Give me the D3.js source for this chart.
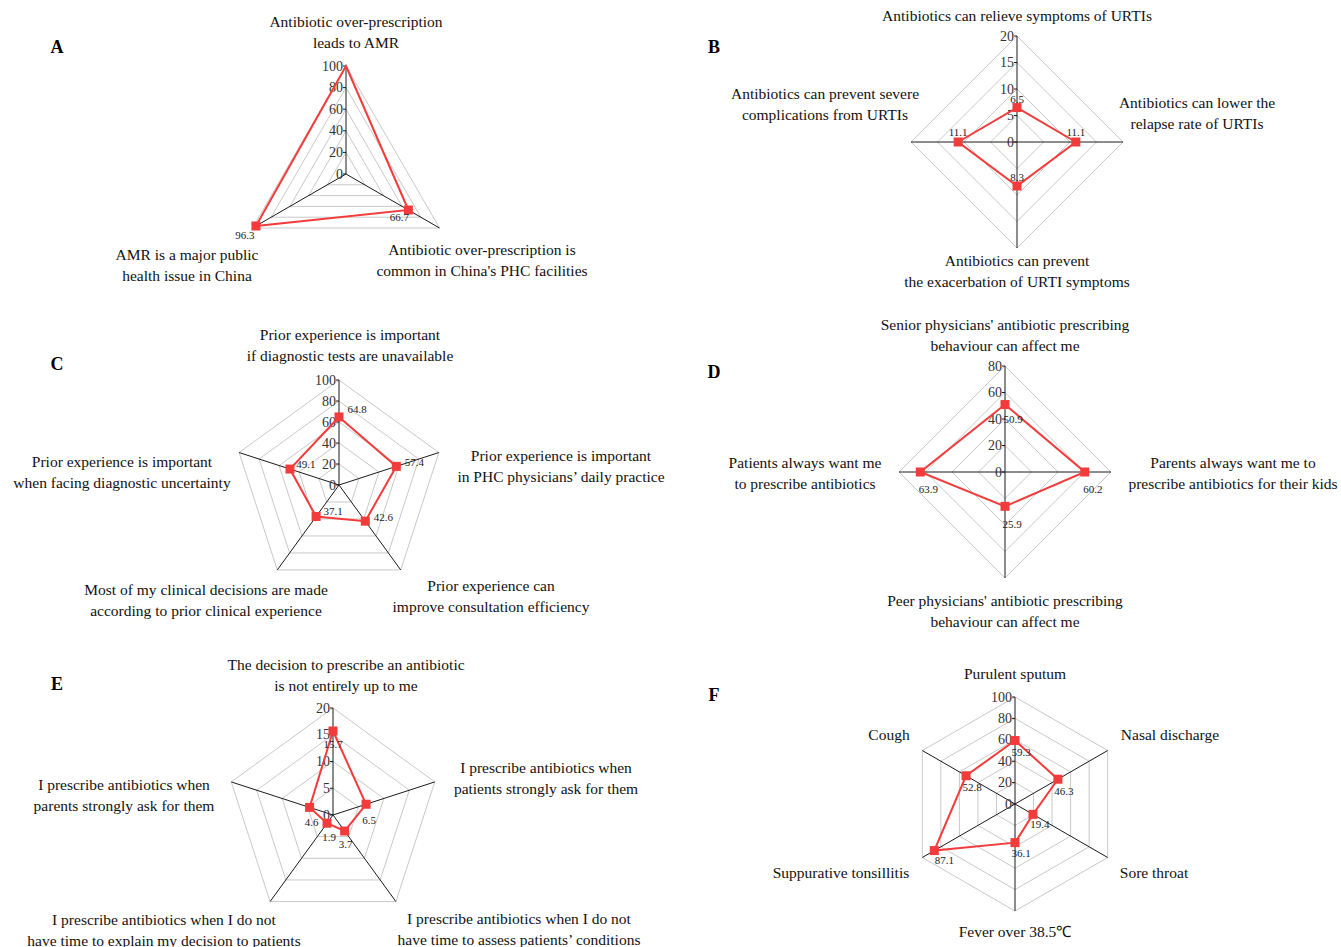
<!DOCTYPE html>
<html>
<head>
<meta charset="utf-8">
<script src="https://cdn.jsdelivr.net/npm/d3@7"></script>
<style>body{margin:0;background:#fff;}</style>
</head>
<body>
<script>
// Data for each radar panel (axes clockwise from top)
var labelsA = [["Antibiotic over-prescription", "leads to AMR"],
               ["Antibiotic over-prescription is", "common in China's PHC facilities"],
               ["AMR is a major public", "health issue in China"]];
var valuesA = [100, 66.7, 96.3];
var ticksA = [0, 20, 40, 60, 80, 100];

var labelsB = [["Antibiotics can relieve symptoms of URTIs"],
               ["Antibiotics can lower the", "relapse rate of URTIs"],
               ["Antibiotics can prevent", "the exacerbation of URTI symptoms"],
               ["Antibiotics can prevent severe", "complications from URTIs"]];
var valuesB = [6.5, 11.1, 8.3, 11.1];
var ticksB = [0, 5, 10, 15, 20];

var labelsC = [["Prior experience is important", "if diagnostic tests are unavailable"],
               ["Prior experience is important", "in PHC physicians\u2019 daily practice"],
               ["Prior experience can", "improve consultation efficiency"],
               ["Most of my clinical decisions are made", "according to prior clinical experience"],
               ["Prior experience is important", "when facing diagnostic uncertainty"]];
var valuesC = [64.8, 57.4, 42.6, 37.1, 49.1];
var ticksC = [0, 20, 40, 60, 80, 100];

var labelsD = [["Senior physicians' antibiotic prescribing", "behaviour can affect me"],
               ["Parents always want me to", "prescribe antibiotics for their kids"],
               ["Peer physicians' antibiotic prescribing", "behaviour can affect me"],
               ["Patients always want me", "to prescribe antibiotics"]];
var valuesD = [50.9, 60.2, 25.9, 63.9];
var ticksD = [0, 20, 40, 60, 80];

var labelsE = [["The decision to prescribe an antibiotic", "is not entirely up to me"],
               ["I prescribe antibiotics when", "patients strongly ask for them"],
               ["I prescribe antibiotics when I do not", "have time to assess patients\u2019 conditions"],
               ["I prescribe antibiotics when I do not", "have time to explain my decision to patients"],
               ["I prescribe antibiotics when", "parents strongly ask for them"]];
var valuesE = [15.7, 6.5, 3.7, 1.9, 4.6];
var ticksE = [0, 5, 10, 15, 20];

var labelsF = [["Purulent sputum"], ["Nasal discharge"], ["Sore throat"],
               ["Fever over 38.5\u2103"], ["Suppurative tonsillitis"], ["Cough"]];
var valuesF = [59.3, 46.3, 19.4, 36.1, 87.1, 52.8];
var ticksF = [0, 20, 40, 60, 80, 100];

// Layout for each panel
var panels = [
	{letter: "A", lx: 57, ly: 47, cx: 346, cy: 174, r: 108,
	 labels: labelsA, values: valuesA, ticks: ticksA,
	 textPos: [[356, 22], [482, 250], [187, 255]],
	 valOff: [null, [-9, 7], [-11, 9]], noMark: [0]},
	{letter: "B", lx: 714, ly: 47, cx: 1017, cy: 142, r: 106,
	 labels: labelsB, values: valuesB, ticks: ticksB,
	 textPos: [[1017, 16], [1197, 103], [1017, 261], [825, 94]],
	 valOff: [[0, -9], [0, -10], [0, -9], [0, -10]]},
	{letter: "C", lx: 57, ly: 364, cx: 339, cy: 485, r: 105,
	 labels: labelsC, values: valuesC, ticks: ticksC,
	 textPos: [[350, 335], [561, 456], [491, 586], [206, 590], [122, 462]],
	 valOff: [[18, -8], [18, -4], [18, -4], [17, -6], [16, -5]]},
	{letter: "D", lx: 714, ly: 372, cx: 1005, cy: 472, r: 106,
	 labels: labelsD, values: valuesD, ticks: ticksD,
	 textPos: [[1005, 325], [1233, 463], [1005, 601], [805, 463]],
	 valOff: [[8, 14], [8, 17], [7, 18], [8, 17]]},
	{letter: "E", lx: 57, ly: 684, cx: 333, cy: 815, r: 107,
	 labels: labelsE, values: valuesE, ticks: ticksE,
	 textPos: [[346, 665], [546, 768], [519, 919], [164, 920], [124, 785]],
	 valOff: [[0, 13], [3, 16], [1, 13], [2, 14], [2, 15]]},
	{letter: "F", lx: 714, ly: 695, cx: 1015, cy: 804, r: 107,
	 labels: labelsF, values: valuesF, ticks: ticksF,
	 textPos: [[1015, 674], [1170, 735], [1154, 873], [1015, 932], [841, 873], [889, 735]],
	 valOff: [[6, 11], [6, 12], [7, 10], [6, 10], [10, 9], [6, 11]]}
];

var W = 1341, H = 947,
	red = "#f23c3c",
	serif = "'Liberation Serif', 'Times New Roman', serif";

var svg = d3.select("body")
	.append("svg")
	.attr("width", W)
	.attr("height", H)
	.style("background", "#fff");

panels.forEach(function(p) {
	var n = p.values.length,
		max = d3.max(p.ticks),
		step = 2 * Math.PI / n;
	var rScale = d3.scaleLinear().domain([0, max]).range([0, p.r]);
	var angle = function(i) { return i * step; };

	var g = svg.append("g")
		.attr("transform", "translate(" + p.cx + "," + p.cy + ")");

	// Grid polygons
	var ring = d3.lineRadial()
		.angle(function(d, i) { return angle(i); })
		.radius(function(d) { return rScale(d); })
		.curve(d3.curveLinearClosed);
	p.ticks.filter(function(t) { return t > 0; }).forEach(function(t) {
		g.append("path")
			.attr("d", ring(d3.range(n).map(function() { return t; })))
			.attr("fill", "none")
			.attr("stroke", "#c9c9c9")
			.attr("stroke-width", 1);
	});

	// Spokes
	d3.range(n).forEach(function(i) {
		var e = d3.pointRadial(angle(i), rScale(max));
		g.append("line")
			.attr("x1", 0).attr("y1", 0)
			.attr("x2", e[0]).attr("y2", e[1])
			.attr("stroke", "#1a1a1a")
			.attr("stroke-width", 1);
	});

	// Tick labels along top spoke
	p.ticks.forEach(function(t) {
		g.append("line")
			.attr("x1", -3).attr("x2", 0)
			.attr("y1", -rScale(t)).attr("y2", -rScale(t))
			.attr("stroke", "#1a1a1a");
		g.append("text")
			.text(t)
			.attr("x", -3)
			.attr("y", -rScale(t))
			.attr("dominant-baseline", "central")
			.attr("text-anchor", "end")
			.attr("font-family", serif)
			.attr("font-size", "14px")
			.attr("fill", "#333");
	});

	// Data polygon
	g.append("path")
		.attr("d", ring(p.values))
		.attr("fill", "none")
		.attr("stroke", red)
		.attr("stroke-width", 2);

	// Markers and value labels
	p.values.forEach(function(v, i) {
		var pt = d3.pointRadial(angle(i), rScale(v));
		if (!(p.noMark && p.noMark.indexOf(i) >= 0)) {
			g.append("rect")
				.attr("x", pt[0] - 4.5)
				.attr("y", pt[1] - 4.5)
				.attr("width", 9)
				.attr("height", 9)
				.attr("fill", red);
		}
		if (p.valOff[i]) {
			g.append("text")
				.text(v)
				.attr("x", pt[0] + p.valOff[i][0])
				.attr("y", pt[1] + p.valOff[i][1])
				.attr("dominant-baseline", "central")
				.attr("text-anchor", "middle")
				.attr("font-family", serif)
				.attr("font-size", "11px")
				.attr("fill", "#222");
		}
	});

	// Axis labels
	p.labels.forEach(function(lines, i) {
		var t = svg.append("text")
			.attr("text-anchor", "middle")
			.attr("font-family", serif)
			.attr("font-size", "15.5px")
			.attr("fill", "#111");
		lines.forEach(function(s, k) {
			t.append("tspan")
				.text(s)
				.attr("x", p.textPos[i][0])
				.attr("y", p.textPos[i][1] + k * 20.5 + 5);
		});
	});

	// Panel letter
	svg.append("text")
		.text(p.letter)
		.attr("x", p.lx)
		.attr("y", p.ly + 6)
		.attr("text-anchor", "middle")
		.attr("font-family", serif)
		.attr("font-weight", "bold")
		.attr("font-size", "18px")
		.attr("fill", "#000");
});
</script>
</body>
</html>
